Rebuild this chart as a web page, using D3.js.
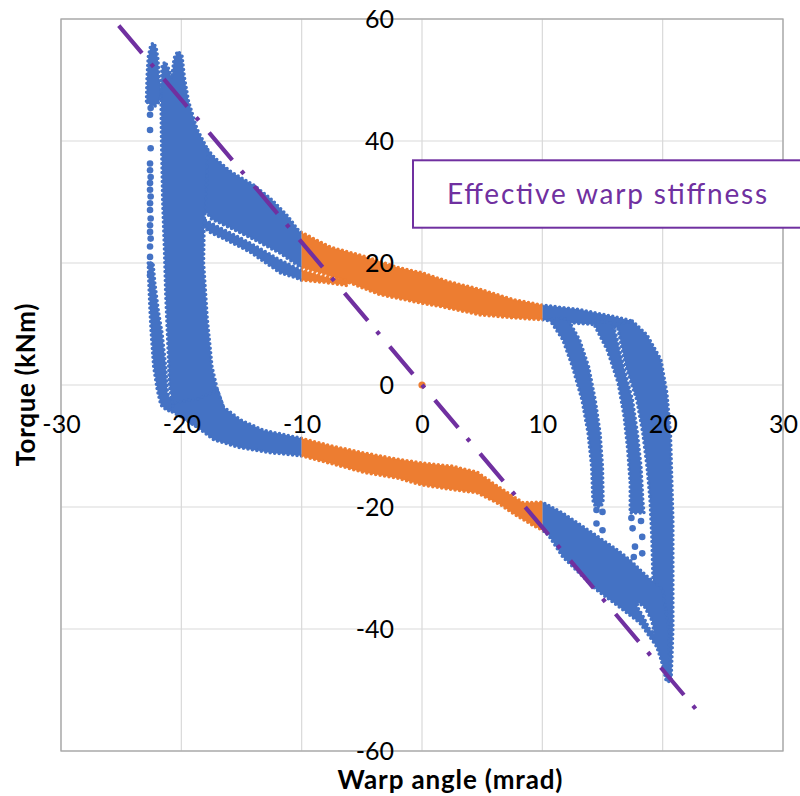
<!DOCTYPE html>
<html>
<head>
<meta charset="utf-8">
<script src="https://cdn.jsdelivr.net/npm/d3@7"></script>
<style>
  html, body { margin: 0; padding: 0; background: #fff; }
  svg { display: block; font-family: Lato, "Open Sans", sans-serif; }
</style>
</head>
<body>
<svg id="chart" width="800" height="796"></svg>
<script>
// ---- axis ticks ----
const xTicks = [-30, -20, -10, 0, 10, 20, 30];
const yTicks = [-60, -40, -20, 0, 20, 40, 60];

// points with |warp angle| <= 10 mrad are plotted in the second colour
const effectiveRange = [-10, 10];

// ---- dense regions of the measured scatter (warp angle mrad, torque kNm), outlined ----
const leftPeak = [[-22.9,46.5],[-22.85,50.5],[-22.75,53.8],[-22.55,55.6],[-22.35,56.1],[-22.1,55.4],[-21.95,53.5],
  [-21.85,50.5],[-21.65,48.2],[-21.85,46.4],[-22.2,45.7],[-22.6,45.9]];

const leftStripe = [[-22.75,20],[-22.7,16.7],[-22.6,12],[-22.5,8.5],[-22.3,3],[-22.0,-0.8],[-21.7,-3.3],[-21.2,-4.2],
  [-20.3,-4.3],[-20.3,-2.6],[-21.0,-2.0],[-21.15,-1.3],[-21.3,3],[-21.6,8.5],[-21.9,12],[-22.2,16.7],[-22.35,20]];

const leftBlock = [[-21.7,48.5],[-21.6,52.4],[-21.35,53.0],[-21.05,51.8],[-20.8,50.3],[-20.6,53.6],[-20.3,54.7],
  [-19.95,54.1],[-19.75,50.5],[-19.4,46.5],[-18.7,42],[-17.8,38.6],[-17.9,30],[-18.1,27],[-18.15,20],[-17.85,11],
  [-17.45,3],[-17.0,-0.8],[-16.5,-3.6],[-18.7,-6.9],[-20.0,-5.2],[-20.7,-3.5],[-21.0,0],[-21.1,5.7],[-21.3,15],
  [-21.4,22],[-21.55,30],[-21.65,40]];

const upperBand = [[-17.8,38.6],[-17.2,37.2],[-15.9,35.0],[-14.0,32.8],[-12.6,30.6],[-11.2,27.8],[-10.2,25.2],
  [-7.6,22.6],[-4.6,21.0],[-2.1,19.3],[0,18.4],[2.1,17.0],[4.8,15.7],[7.6,14.0],[10,13.1],[13,12.4],[16,11.2],
  [17.5,10.5],[17.2,9.0],[15.0,9.8],[13.0,10.1],[11.0,10.4],[10,10.7],[7.6,11.0],[4.8,11.5],[1.7,12.8],[0,13.4],
  [-3.5,14.8],[-6.2,16.9],[-8,18.1],[-10.1,19.3],[-11.8,21.6],[-14.3,24.2],[-16,25.8],[-17.5,27.2],[-18.0,28.5]];

const upperInnerBand = [[-18.0,27.0],[-17.5,26.5],[-16,25.0],[-14.3,23.3],[-11.8,20.5],[-10.1,18.9],[-8,17.7],
  [-6.2,17.2],[-6.2,16.3],[-8,16.8],[-10.1,17.2],[-10.4,17.5],[-11.8,18.4],[-14.3,21.8],[-16,23.5],[-17.6,25.0],
  [-18.2,26.0]];

const lowerBand = [[-17.0,-0.8],[-16.5,-3.6],[-15.1,-5.7],[-13.2,-7.4],[-10.1,-8.7],[-7.5,-10.0],[-4.9,-11.1],
  [-2.5,-12.0],[0,-12.8],[2.5,-13.3],[4.6,-14.3],[5.9,-16.1],[7.6,-18.3],[8.4,-19.3],[10,-19.2],[11.7,-21.0],
  [14.2,-24.3],[16.2,-27.0],[17.3,-28.7],[18.5,-31.0],[19.3,-32.4],[20.0,-33.5],[20.5,-40],[20.65,-48.3],
  [20.3,-47.6],[19.5,-42.9],[18.1,-39.0],[16.4,-36.4],[14.5,-33.6],[11.7,-28.2],[10.5,-24.6],[10,-23.8],
  [9.2,-23.0],[7.6,-21.1],[6.5,-19.6],[4.6,-17.7],[2.0,-17.0],[0,-16.4],[-2.0,-15.3],[-4.9,-14.3],[-7.5,-12.9],
  [-10.1,-11.6],[-12.6,-11.1],[-15.1,-10.3],[-17.3,-9.0],[-18.7,-6.9],[-20.0,-5.2],[-21.0,-4.2],[-20.5,-2.9],
  [-18.5,-2.2]];

// open pocket inside the lower-right cluster
const lowerPocket = [[17.9,-35.6],[18.5,-36.4],[19.1,-38.6],[19.3,-40.8],[18.9,-40.0],[18.4,-38.0],[17.9,-36.4]];

const stripeA = [[10.6,10.7],[11.7,7.4],[12.5,3.0],[13.3,-2.5],[13.8,-7.9],[14.1,-13.4],[14.2,-18.9],[14.4,-19.9],
  [14.9,-19.9],[15.05,-18.9],[15.0,-13.4],[14.8,-7.9],[14.4,-2.5],[13.85,3.0],[13.1,7.4],[12.3,10.2],[11.8,11.0]];

const stripeB = [[14.2,10.3],[15.4,5.7],[16.3,0.3],[16.8,-5.2],[17.1,-10.7],[17.3,-16.1],[17.3,-21.0],[18.45,-21.0],
  [18.35,-18.9],[18.2,-13.4],[17.9,-7.9],[17.5,-2.5],[16.75,3.0],[16.05,8.8],[15.6,10.4]];

const stripeC = [[16.2,9.9],[16.95,3.0],[17.85,-2.5],[18.35,-7.9],[18.7,-13.4],[18.95,-18.9],[19.1,-25],[19.2,-32.5],
  [19.7,-36],[19.9,-45],[20.3,-48.6],[20.7,-48.6],[20.85,-40],[20.85,-22],[20.65,-8.0],[20.35,-1.3],[19.85,4.2],
  [18.7,8.2],[17.5,10.5]];

// ---- isolated points ----
const leftColumnDots = [[-22.55,45.4],[-22.6,44.3],[-22.6,41.8],[-22.55,38.8],[-22.6,36.3],[-22.6,35.2],[-22.55,34.1],
  [-22.6,33.1],[-22.6,32.0],[-22.55,30.9],[-22.6,29.8],[-22.6,28.7],[-22.55,27.3],[-22.6,26.2],[-22.6,25.1],
  [-22.55,24.0],[-22.6,22.7],[-22.6,21.0],[-22.55,19.7],[-22.6,18.0]];
const stripeADots = [[14.5,-20.5],[15.0,-20.8],[14.5,-22.7],[15.0,-23.8]];
const stripeBDots = [[17.4,-21.8],[18.2,-22.3],[17.5,-23.5],[18.3,-24.9],[17.7,-26.5],[18.3,-27.6],[17.6,-28.2]];
const originPoint = [[0, 0]];

// ---- effective warp stiffness line ----
const stiffnessLine = [[-25.2, 58.9], [23.0, -53.7]];
const annotation = "Effective warp stiffness";

// ---- colours ----
const blue = "#4472c4", orange = "#ed7d31", purple = "#7030a0";

const svg = d3.select("#chart");
const x = d3.scaleLinear().domain([-30, 30]).range([61, 783]);
const y = d3.scaleLinear().domain([-60, 60]).range([751, 19]);

// clip paths: outside / inside the effective range
const defs = svg.append("defs");
defs.append("clipPath").attr("id", "clip-outside")
  .selectAll("rect").data([[-30, effectiveRange[0]], [effectiveRange[1], 30]]).join("rect")
  .attr("x", d => x(d[0])).attr("width", d => x(d[1]) - x(d[0]))
  .attr("y", y(60)).attr("height", y(-60) - y(60));
defs.append("clipPath").attr("id", "clip-inside").append("rect")
  .attr("x", x(effectiveRange[0])).attr("width", x(effectiveRange[1]) - x(effectiveRange[0]))
  .attr("y", y(60)).attr("height", y(-60) - y(60));

// gridlines
const grid = svg.append("g").attr("stroke", "#d9d9d9").attr("stroke-width", 1.2);
grid.selectAll("line.v").data(xTicks).join("line").attr("class", "v")
  .attr("x1", d => x(d)).attr("x2", d => x(d)).attr("y1", y(-60)).attr("y2", y(60));
grid.selectAll("line.h").data(yTicks).join("line").attr("class", "h")
  .attr("x1", x(-30)).attr("x2", x(30)).attr("y1", d => y(d)).attr("y2", d => y(d));

svg.append("rect").attr("x", x(-30)).attr("y", y(60))
  .attr("width", x(30) - x(-30)).attr("height", y(-60) - y(60))
  .attr("fill", "none").attr("stroke", "#a6a6a6").attr("stroke-width", 1.3);

// scatter regions
const ring = d3.line().x(d => x(d[0])).y(d => y(d[1])).curve(d3.curveLinearClosed);
const regions = [leftPeak, leftStripe, leftBlock, upperBand, upperInnerBand, stripeA, stripeB, stripeC];
const dots = [].concat(leftColumnDots, stripeADots, stripeBDots);

function drawLayer(clipId, color) {
  const g = svg.append("g").attr("clip-path", `url(#${clipId})`);
  const styleRegion = sel => sel.attr("fill", color).attr("stroke", color)
    .attr("stroke-width", 3.5).attr("stroke-dasharray", "0 4.5")
    .attr("stroke-linecap", "round").attr("stroke-linejoin", "round");
  g.selectAll("path.region").data(regions).join("path").attr("class", "region")
    .attr("d", ring).call(styleRegion);
  g.append("path").attr("d", ring(lowerBand) + ring(lowerPocket))
    .attr("fill-rule", "evenodd").call(styleRegion);
  g.selectAll("circle").data(dots).join("circle")
    .attr("cx", d => x(d[0])).attr("cy", d => y(d[1])).attr("r", 3.3).attr("fill", color);
}
drawLayer("clip-outside", blue);
drawLayer("clip-inside", orange);

svg.append("g").selectAll("circle").data(originPoint).join("circle")
  .attr("cx", d => x(d[0])).attr("cy", d => y(d[1])).attr("r", 3.6).attr("fill", orange);

// stiffness line
svg.append("path")
  .attr("d", d3.line().x(d => x(d[0])).y(d => y(d[1]))(stiffnessLine))
  .attr("fill", "none").attr("stroke", purple).attr("stroke-width", 4.2)
  .attr("stroke-dasharray", "36 14 4 16");

// axes (labels only, crossing at zero)
const yAxis = svg.append("g").attr("transform", `translate(${x(0)},0)`)
  .call(d3.axisLeft(y).tickValues(yTicks).tickSize(0).tickPadding(28).tickFormat(d => String(d)));
const xAxis = svg.append("g").attr("transform", `translate(0,${y(0)})`)
  .call(d3.axisBottom(x).tickValues(xTicks).tickSize(0).tickPadding(30).tickFormat(d => String(d)));
[xAxis, yAxis].forEach(a => {
  a.select(".domain").remove();
  a.attr("font-family", "Lato, 'Open Sans', sans-serif").attr("font-size", 25);
  a.selectAll("text").attr("fill", "#000");
});

// axis titles
svg.append("text").attr("x", 450).attr("y", 789).attr("text-anchor", "middle")
  .attr("font-size", 26).attr("font-weight", "bold").attr("fill", "#000")
  .attr("textLength", 225).attr("lengthAdjust", "spacing")
  .text("Warp angle (mrad)");
svg.append("text").attr("transform", "translate(35,385) rotate(-90)").attr("text-anchor", "middle")
  .attr("font-size", 26).attr("font-weight", "bold").attr("fill", "#000")
  .attr("textLength", 163).attr("lengthAdjust", "spacing")
  .text("Torque (kNm)");

// annotation box
svg.append("rect").attr("x", 413).attr("y", 160.3).attr("width", 400).attr("height", 67.4)
  .attr("fill", "#fff").attr("stroke", purple).attr("stroke-width", 2);
svg.append("text").attr("x", 447).attr("y", 204).attr("font-size", 28).attr("fill", purple)
  .attr("textLength", 320).attr("lengthAdjust", "spacing")
  .text(annotation);
</script>
</body>
</html>
